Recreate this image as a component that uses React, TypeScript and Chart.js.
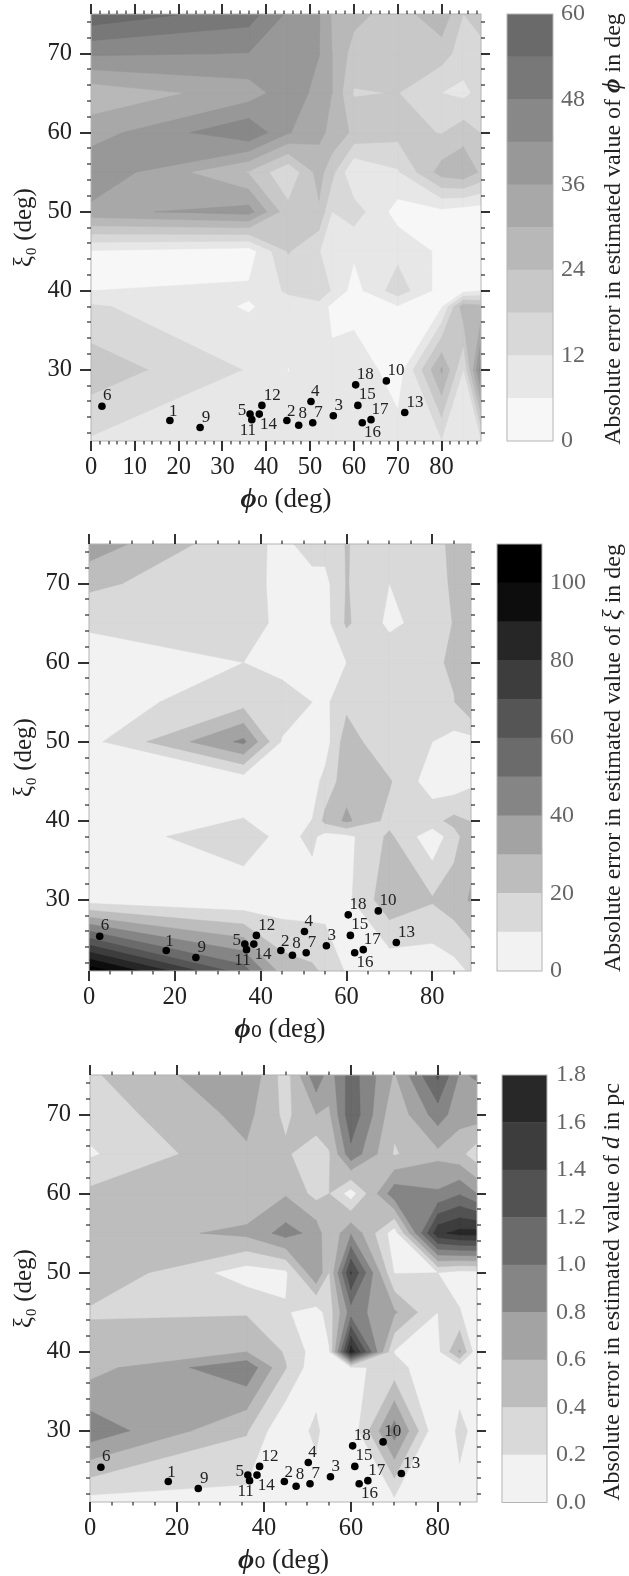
import React, { useEffect, useRef } from "react";
import { Chart, registerables } from "chart.js";

Chart.register(...registerables);

// grid of the contour maps
const phiGrid = [0, 36, 45, 52, 55, 60, 70, 80, 85, 89];
const xiGrid = [21, 30, 38, 40, 45, 50, 55, 60, 65, 70, 75];

// absolute error in phi (deg), one list per xi row
const phiErr21 = [11.3, 8, 8, 8, 8, 8, 9.2, 11.6, 9, 11];
const phiErr30 = [21.6, 11.6, 5.9, 8, 7.5, 11, 2, 31, 12, 45];
const phiErr38 = [13, 5.4, 9, 9.5, 4.5, 3, 5.5, 5.5, 28, 26];
const phiErr40 = [6, 7, 13, 16.5, 11.5, 3.5, 15.4, 3.4, 4, 6];
const phiErr45 = [5.5, 3, 18.5, 12.5, 7, 7, 10.2, 4.8, 3, 3];
const phiErr50 = [34.3, 38.5, 20, 23, 12, 15, 3.5, 4.5, 3, 2.5];
const phiErr55 = [41, 23.5, 13, 26.5, 20, 6, 11.3, 26.7, 28.5, 23];
const phiErr60 = [33.2, 47.2, 36.5, 31.5, 28.5, 22.7, 20, 17.7, 21.5, 17.8];
const phiErr65 = [26, 32.8, 39.8, 34, 30, 17.5, 18.2, 12, 10.5, 14];
const phiErr70 = [43, 41.8, 38, 36.2, 30, 21.5, 20, 20.7, 15, 16.5];
const phiErr75 = [58.5, 51, 41, 36.5, 29.5, 26, 21, 28.5, 18, 20];

// absolute error in xi (deg)
const xiErr21 = [107.2, 55, 26, 22, 18, 9, 2, 3, 6, 11.5];
const xiErr30 = [5.2, 2, 4, 4.5, 5.8, 7.5, 27, 21, 25.5, 31];
const xiErr38 = [3, 17, 6.2, 12.5, 6, 7, 22, 3, 16, 27];
const xiErr40 = [4, 10.5, 5, 10.2, 23, 32, 16.8, 16.7, 23, 19.5];
const xiErr45 = [5, 3.5, 3, 6, 13, 26, 21, 4.4, 3, 8];
const xiErr50 = [6.8, 42.3, 9, 5, 5, 26, 10.2, 10, 6.3, 6];
const xiErr55 = [5, 16, 16.5, 10, 8, 17, 14, 16, 19.5, 30.2];
const xiErr60 = [5, 10, 5, 4, 4, 10, 17, 18, 21.7, 22];
const xiErr65 = [11.5, 14, 7.8, 5, 6, 21.5, 7.7, 14.5, 20.5, 23];
const xiErr70 = [22.5, 11, 9.3, 8, 7, 20.6, 10, 16, 21.5, 26];
const xiErr75 = [36, 12.5, 8.4, 12.6, 14, 20.5, 14, 17, 22, 27];

// absolute error in d (pc)
const dErr21 = [0.12, 0.13, 0.08, 0.06, 0.06, 0.05, 0.15, 0.08, 0.14, 0.08];
const dErr30 = [0.93, 0.42, 0.01, 0.26, 0.05, 0.05, 0.9, 0, 0.25, 0.14];
const dErr38 = [0.52, 0.96, 0.41, 0.05, 0.1, 0.16, 0.27, 0.05, 0.1, 0.05];
const dErr40 = [0.55, 0.6, 0.38, 0.1, 0.18, 1.72, 0.19, 0.15, 0.62, 0.06];
const dErr45 = [0.365, 0.38, 0.22, 0.1, 0.3, 0.9, 0.63, 0.2, 0.21, 0.1];
const dErr50 = [0.58, 0.1, 0.16, 0.79, 0.39, 1.42, 0.19, 0.2, 0.13, 0.14];
const dErr55 = [0.48, 0.65, 0.88, 0.73, 0.42, 0.78, 0.09, 1.55, 1.67, 1.68];
const dErr60 = [0.45, 0.42, 0.58, 0.33, 0.4, 0.1, 0.93, 0.83, 0.98, 0.8];
const dErr65 = [0.175, 0.57, 0.44, 0.22, 0.38, 0.94, 0.38, 0.55, 0.46, 0.28];
const dErr70 = [0.28, 0.66, 0.35, 0.6, 0.57, 1.15, 0.45, 0.9, 0.68, 0.7];
const dErr75 = [0.37, 0.78, 0.3, 0.95, 0.7, 1.1, 0.58, 1.24, 0.78, 0.82];

// the numbered objects
const starNames = ["1", "2", "3", "4", "5", "6", "7", "8", "9", "10", "11", "12", "13", "14", "15", "16", "17", "18"];
const starPhi = [18, 44.7, 55.3, 50.2, 36.3, 2.5, 50.6, 47.4, 24.9, 67.4, 36.7, 39, 71.6, 38.4, 60.9, 61.9, 63.9, 60.4];
const starXi = [23.6, 23.6, 24.2, 26, 24.4, 25.4, 23.3, 23, 22.7, 28.6, 23.7, 25.5, 24.6, 24.4, 25.5, 23.3, 23.7, 28.1];

// contour levels and colour-bar ticks
const phiLevels = [0, 6, 12, 18, 24, 30, 36, 42, 48, 54, 60];
const xiLevels = [0, 10, 20, 30, 40, 50, 60, 70, 80, 90, 100, 110];
const dLevels = [0, 0.2, 0.4, 0.6, 0.8, 1, 1.2, 1.4, 1.6, 1.8];
const phiBarTicks = [0, 12, 24, 36, 48, 60];
const xiBarTicks = [0, 20, 40, 60, 80, 100];
const dBarTicks = [0, 0.2, 0.4, 0.6, 0.8, 1, 1.2, 1.4, 1.6, 1.8];

// styling, separate from the data
const phiShades = ["#f7f7f7", "#e7e7e7", "#d8d8d8", "#c8c8c8", "#b8b8b8", "#a8a8a8", "#989898", "#888888", "#787878", "#6a6a6a"];
const xiShades = ["#f2f2f2", "#d9d9d9", "#bdbdbd", "#a3a3a3", "#858585", "#6b6b6b", "#555555", "#3d3d3d", "#262626", "#0d0d0d", "#000000"];
const dShades = ["#f2f2f2", "#d9d9d9", "#bdbdbd", "#a3a3a3", "#858585", "#6b6b6b", "#525252", "#3d3d3d", "#282828"];
const labelOffsets = [
  [3.3, -9.3], [4.3, -9.3], [5.3, -10], [4.3, -10], [-8, -4], [5.3, -10.3], [5.7, -10.3], [4, -11.7], [6, -10.3],
  [9.7, -10.7], [-4, 11], [10.3, -9.7], [10.3, -10.3], [9.3, 10.7], [9.3, -10.7], [10.3, 10], [9, -10], [9.7, -10.7],
];
const SERIF = '"Liberation Serif", serif';
const FRAME = "#b4b4b4";

type Run = { text: string; font: string };

function drawRuns(ctx: any, runs: Run[], cx: number, cy: number, rotate: boolean, color: string) {
  ctx.save();
  ctx.translate(cx, cy);
  if (rotate) ctx.rotate(-Math.PI / 2);
  ctx.fillStyle = color;
  ctx.textBaseline = "alphabetic";
  ctx.textAlign = "left";
  let total = 0;
  for (const r of runs) {
    ctx.font = r.font;
    total += ctx.measureText(r.text).width;
  }
  let x = -total / 2;
  for (const r of runs) {
    ctx.font = r.font;
    ctx.fillText(r.text, x, 0);
    x += ctx.measureText(r.text).width;
  }
  ctx.restore();
}

function traceLevel(ctx: any, sx: any, sy: any, rows: number[][], level: number) {
  const emit = (poly: number[][]) => {
    if (poly.length < 3) return;
    poly.forEach((p, n) => {
      const px = sx.getPixelForValue(p[0]);
      const py = sy.getPixelForValue(p[1]);
      if (n === 0) ctx.moveTo(px, py);
      else ctx.lineTo(px, py);
    });
    ctx.closePath();
  };
  const cross = (a: number[], b: number[]) => {
    const t = (level - a[2]) / (b[2] - a[2]);
    return [a[0] + t * (b[0] - a[0]), a[1] + t * (b[1] - a[1])];
  };
  for (let j = 0; j < xiGrid.length - 1; j++) {
    for (let i = 0; i < phiGrid.length - 1; i++) {
      const c = [
        [phiGrid[i], xiGrid[j], rows[j][i]],
        [phiGrid[i + 1], xiGrid[j], rows[j][i + 1]],
        [phiGrid[i + 1], xiGrid[j + 1], rows[j + 1][i + 1]],
        [phiGrid[i], xiGrid[j + 1], rows[j + 1][i]],
      ];
      const high = c.map((p) => p[2] >= level);
      const saddle = high[0] === high[2] && high[1] === high[3] && high[0] !== high[1];
      const centre = (c[0][2] + c[1][2] + c[2][2] + c[3][2]) / 4;
      if (saddle && centre < level) {
        // the saddle's middle lies below the level: the two high corners stay apart
        for (let k = 0; k < 4; k++) {
          if (!high[k]) continue;
          emit([cross(c[(k + 3) % 4], c[k]), [c[k][0], c[k][1]], cross(c[k], c[(k + 1) % 4])]);
        }
        continue;
      }
      const poly: number[][] = [];
      for (let k = 0; k < 4; k++) {
        const a = c[k];
        const b = c[(k + 1) % 4];
        if (high[k]) poly.push([a[0], a[1]]);
        if (high[k] !== high[(k + 1) % 4]) poly.push(cross(a, b));
      }
      emit(poly);
    }
  }
}

function makePanel(cfg: any) {
  return {
    id: "panel",
    beforeDatasetsDraw(chart: any) {
      const { ctx, chartArea: a, scales } = chart;
      ctx.save();
      ctx.beginPath();
      ctx.rect(a.left, a.top, a.right - a.left, a.bottom - a.top);
      ctx.clip();
      ctx.fillStyle = cfg.shades[0];
      ctx.fillRect(a.left, a.top, a.right - a.left, a.bottom - a.top);
      cfg.levels.slice(1, -1).forEach((level: number, idx: number) => {
        ctx.beginPath();
        traceLevel(ctx, scales.x, scales.y, cfg.rows, level);
        ctx.fillStyle = cfg.shades[idx + 1];
        ctx.strokeStyle = cfg.shades[idx + 1];
        ctx.lineWidth = 0.4;
        ctx.fill();
        ctx.stroke();
      });
      ctx.restore();
    },
    afterDatasetsDraw(chart: any) {
      const { ctx, chartArea: a, scales } = chart;
      ctx.save();
      ctx.strokeStyle = FRAME;
      ctx.lineWidth = 1;
      ctx.strokeRect(a.left, a.top, a.right - a.left, a.bottom - a.top);
      ctx.strokeStyle = "#000";
      const tick = (x0: number, y0: number, x1: number, y1: number, w: number) => {
        ctx.lineWidth = w;
        ctx.beginPath();
        ctx.moveTo(x0, y0);
        ctx.lineTo(x1, y1);
        ctx.stroke();
      };
      for (let v = 0; v <= 89; v += cfg.xMinor) {
        const major = v % cfg.xMajor === 0;
        const p = Math.round(scales.x.getPixelForValue(v));
        const l = major ? 10 : 3.5;
        tick(p, a.top, p, a.top - l, major ? 1.6 : 1);
        tick(p, a.bottom, p, a.bottom + l, major ? 1.6 : 1);
      }
      for (let v = 22; v <= 75; v += 2) {
        const major = v % 10 === 0;
        const p = Math.round(scales.y.getPixelForValue(v));
        tick(a.left, p, a.left - (major ? 11 : 4), p, major ? 1.6 : 1);
        tick(a.right, p, a.right + (major ? 9 : 4), p, major ? 1.6 : 1);
      }
      const meta = chart.getDatasetMeta(0);
      ctx.fillStyle = "#222";
      ctx.font = `17px ${SERIF}`;
      ctx.textAlign = "center";
      ctx.textBaseline = "middle";
      meta.data.forEach((pt: any, i: number) => {
        ctx.fillText(starNames[i], pt.x + labelOffsets[i][0], pt.y + labelOffsets[i][1]);
      });
      drawRuns(
        ctx,
        [
          { text: "ϕ", font: `italic bold 28px ${SERIF}` },
          { text: "₀", font: `28px "DejaVu Sans", sans-serif` },
          { text: " (deg)", font: `27px ${SERIF}` },
        ],
        (a.left + a.right) / 2,
        a.bottom + 66,
        false,
        "#222"
      );
      ctx.restore();
    },
  };
}

function Plot({ cfg }: { cfg: any }) {
  const ref = useRef<HTMLCanvasElement>(null);
  useEffect(() => {
    const chart = new Chart(ref.current as any, {
      type: "scatter",
      data: {
        datasets: [
          {
            data: starPhi.map((x, i) => ({ x, y: starXi[i] })),
            backgroundColor: "#000",
            borderWidth: 0,
            pointRadius: 3.8,
          },
        ],
      },
      options: {
        animation: false,
        responsive: false,
        devicePixelRatio: 1,
        layout: { padding: { top: cfg.top, right: cfg.width - cfg.right, left: 0, bottom: 0 } },
        plugins: { legend: { display: false }, tooltip: { enabled: false } },
        scales: {
          x: {
            type: "linear",
            min: 0,
            max: 89,
            bounds: "data",
            afterBuildTicks: (s: any) => {
              s.ticks = cfg.xTicks.map((value: number) => ({ value }));
            },
            afterFit: (s: any) => {
              s.height = cfg.height - cfg.bottom;
              s.paddingLeft = 0;
              s.paddingRight = 0;
            },
            grid: { display: false, drawTicks: false },
            border: { display: false },
            ticks: {
              autoSkip: false,
              maxRotation: 0,
              padding: 12,
              color: "#222",
              font: { family: SERIF, size: 24.5 },
            },
          },
          y: {
            type: "linear",
            min: 21,
            max: 75,
            bounds: "data",
            afterBuildTicks: (s: any) => {
              s.ticks = [30, 40, 50, 60, 70].map((value) => ({ value }));
            },
            afterFit: (s: any) => {
              s.width = cfg.left;
              s.paddingTop = 0;
              s.paddingBottom = 0;
            },
            grid: { display: false, drawTicks: false },
            border: { display: false },
            title: {
              display: true,
              text: "ξ₀ (deg)",
              color: "#222",
              padding: { top: 9.5, bottom: 0 },
              font: { family: SERIF, size: 25 },
            },
            ticks: {
              autoSkip: false,
              padding: 19,
              color: "#222",
              font: { family: SERIF, size: 24.5 },
            },
          },
        },
      } as any,
      plugins: [makePanel(cfg)],
    });
    return () => chart.destroy();
  }, []);
  return (
    <canvas
      ref={ref}
      width={cfg.width}
      height={cfg.height}
      style={{ position: "absolute", left: 0, top: cfg.offset, display: "block" }}
    />
  );
}

function Bar({ cfg }: { cfg: any }) {
  const ref = useRef<HTMLCanvasElement>(null);
  useEffect(() => {
    const frame = {
      id: "frame",
      afterDatasetsDraw(chart: any) {
        const { ctx, chartArea: a } = chart;
        ctx.save();
        ctx.strokeStyle = FRAME;
        ctx.lineWidth = 1;
        ctx.strokeRect(a.left, a.top, a.right - a.left, a.bottom - a.top);
        drawRuns(ctx, cfg.title, cfg.titleX, cfg.titleY, true, "#222");
        ctx.restore();
      },
    };
    const chart = new Chart(ref.current as any, {
      type: "bar",
      data: {
        labels: [""],
        datasets: cfg.shades.map((c: string, i: number) => ({
          data: [[cfg.levels[i], cfg.levels[i + 1]]],
          backgroundColor: c,
          borderWidth: 0,
          barPercentage: 1,
          categoryPercentage: 1,
          grouped: false,
        })),
      },
      options: {
        animation: false,
        responsive: false,
        devicePixelRatio: 1,
        layout: { padding: { top: cfg.top, left: cfg.barLeft, right: 0, bottom: cfg.height - cfg.bottom } },
        plugins: { legend: { display: false }, tooltip: { enabled: false } },
        scales: {
          x: { display: false },
          y: {
            position: "right",
            min: 0,
            max: cfg.levels[cfg.levels.length - 1],
            bounds: "data",
            afterBuildTicks: (s: any) => {
              s.ticks = cfg.ticks.map((value: number) => ({ value }));
            },
            afterFit: (s: any) => {
              s.width = cfg.width - cfg.barRight;
              s.paddingTop = 0;
              s.paddingBottom = 0;
            },
            grid: { display: false, drawTicks: false },
            border: { display: false },
            ticks: {
              autoSkip: false,
              padding: cfg.tickPad,
              color: "#666",
              font: { family: SERIF, size: 24 },
              callback: (v: number) => cfg.format(v),
            },
          },
        },
      } as any,
      plugins: [frame],
    });
    return () => chart.destroy();
  }, []);
  return (
    <canvas
      ref={ref}
      width={cfg.width}
      height={cfg.height}
      style={{ position: "absolute", left: 493, top: cfg.offset, display: "block" }}
    />
  );
}

const titleFont = `24px ${SERIF}`;
const phiMathFont = `italic bold 25px ${SERIF}`;
const mathFont = `italic 25px ${SERIF}`;
const head = "Absolute error in estimated value of ";

const panels = [
  {
    plot: {
      offset: 0, width: 493, height: 525, left: 91, right: 481, top: 14, bottom: 441,
      rows: [phiErr21, phiErr30, phiErr38, phiErr40, phiErr45, phiErr50, phiErr55, phiErr60, phiErr65, phiErr70, phiErr75],
      levels: phiLevels, shades: phiShades, xTicks: [0, 10, 20, 30, 40, 50, 60, 70, 80], xMajor: 10, xMinor: 2,
    },
    bar: {
      offset: 0, width: 136, height: 525, top: 14, bottom: 441, barLeft: 14, barRight: 60, tickPad: 8,
      levels: phiLevels, shades: phiShades, ticks: phiBarTicks, format: (v: number) => String(v),
      titleX: 127, titleY: 229,
      title: [{ text: head, font: titleFont }, { text: "ϕ", font: phiMathFont }, { text: " in deg", font: titleFont }],
    },
  },
  {
    plot: {
      offset: 525, width: 493, height: 525, left: 89, right: 471, top: 19, bottom: 446,
      rows: [xiErr21, xiErr30, xiErr38, xiErr40, xiErr45, xiErr50, xiErr55, xiErr60, xiErr65, xiErr70, xiErr75],
      levels: xiLevels, shades: xiShades, xTicks: [0, 20, 40, 60, 80], xMajor: 20, xMinor: 5,
    },
    bar: {
      offset: 525, width: 136, height: 525, top: 19, bottom: 446, barLeft: 4, barRight: 49, tickPad: 8,
      levels: xiLevels, shades: xiShades, ticks: xiBarTicks, format: (v: number) => String(v),
      titleX: 127, titleY: 233,
      title: [{ text: head, font: titleFont }, { text: "ξ", font: mathFont }, { text: " in deg", font: titleFont }],
    },
  },
  {
    plot: {
      offset: 1050, width: 493, height: 526, left: 90, right: 477, top: 25, bottom: 452,
      rows: [dErr21, dErr30, dErr38, dErr40, dErr45, dErr50, dErr55, dErr60, dErr65, dErr70, dErr75],
      levels: dLevels, shades: dShades, xTicks: [0, 20, 40, 60, 80], xMajor: 20, xMinor: 5,
    },
    bar: {
      offset: 1050, width: 136, height: 526, top: 25, bottom: 452.5, barLeft: 9, barRight: 54, tickPad: 9,
      levels: dLevels, shades: dShades, ticks: dBarTicks, format: (v: number) => v.toFixed(1),
      titleX: 126, titleY: 242,
      title: [{ text: head, font: titleFont }, { text: "d", font: mathFont }, { text: " in pc", font: titleFont }],
    },
  },
];

export default function App() {
  return (
    <div style={{ position: "absolute", left: 0, top: 0, width: 629, height: 1576, background: "#fff", overflow: "hidden" }}>
      {panels.map((p, i) => (
        <React.Fragment key={i}>
          <Plot cfg={p.plot} />
          <Bar cfg={p.bar} />
        </React.Fragment>
      ))}
    </div>
  );
}
